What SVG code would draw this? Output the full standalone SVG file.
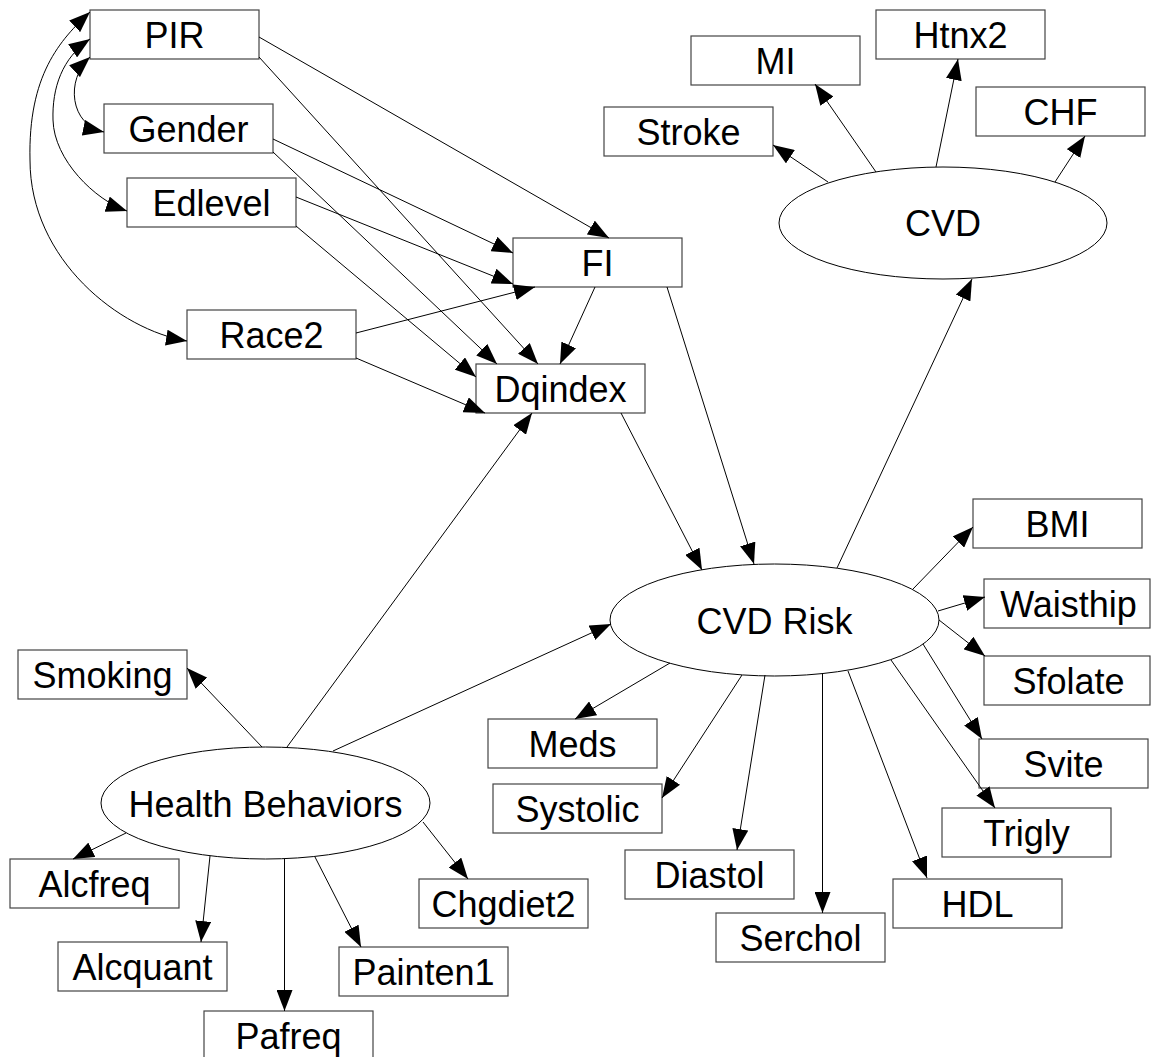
<svg xmlns="http://www.w3.org/2000/svg" width="1151" height="1057" viewBox="0 0 1151 1057">
<style>
.box{fill:#fff;stroke:#444;stroke-width:1.2}
.ell{fill:#fff;stroke:#000;stroke-width:1}
.lbl{font-family:"Liberation Sans",Arial,sans-serif;font-size:36px;fill:#000;text-anchor:middle}
.e{fill:none;stroke:#000;stroke-width:1;marker-end:url(#arr)}
.b{fill:none;stroke:#000;stroke-width:1;marker-end:url(#arr);marker-start:url(#arr)}
</style>
<defs>
<marker id="arr" viewBox="0 0 21 16" markerWidth="21" markerHeight="16" refX="21" refY="8" orient="auto-start-reverse" markerUnits="userSpaceOnUse"><path d="M0,0 L21,8 L0,16 z" fill="#000"/></marker>
</defs>
<rect width="1151" height="1057" fill="#fff"/>
<g id="nodes">
<g id="PIR"><rect class="box" x="90" y="10" width="169" height="49"/><text class="lbl" x="174.5" y="48">PIR</text></g>
<g id="Gender"><rect class="box" x="104" y="104" width="169" height="49"/><text class="lbl" x="188.5" y="142">Gender</text></g>
<g id="Edlevel"><rect class="box" x="127" y="178" width="169" height="49"/><text class="lbl" x="211.5" y="216">Edlevel</text></g>
<g id="Race2"><rect class="box" x="187" y="310" width="169" height="49"/><text class="lbl" x="271.5" y="348">Race2</text></g>
<g id="FI"><rect class="box" x="513" y="238" width="169" height="49"/><text class="lbl" x="597.5" y="276">FI</text></g>
<g id="Dqindex"><rect class="box" x="476" y="364" width="169" height="49"/><text class="lbl" x="560.5" y="402">Dqindex</text></g>
<g id="Stroke"><rect class="box" x="604" y="107" width="169" height="49"/><text class="lbl" x="688.5" y="145">Stroke</text></g>
<g id="MI"><rect class="box" x="691" y="36" width="169" height="49"/><text class="lbl" x="775.5" y="74">MI</text></g>
<g id="Htnx2"><rect class="box" x="876" y="10" width="169" height="49"/><text class="lbl" x="960.5" y="48">Htnx2</text></g>
<g id="CHF"><rect class="box" x="976" y="87" width="169" height="49"/><text class="lbl" x="1060.5" y="125">CHF</text></g>
<g id="CVD"><ellipse class="ell" cx="943" cy="223" rx="164" ry="56"/><text class="lbl" x="943" y="236">CVD</text></g>
<g id="CVDRisk"><ellipse class="ell" cx="774.5" cy="620" rx="164.5" ry="56"/><text class="lbl" x="774.5" y="634">CVD Risk</text></g>
<g id="HealthBehaviors"><ellipse class="ell" cx="265.5" cy="803" rx="164.5" ry="56"/><text class="lbl" x="265.5" y="817">Health Behaviors</text></g>
<g id="BMI"><rect class="box" x="973" y="499" width="169" height="49"/><text class="lbl" x="1057.5" y="537">BMI</text></g>
<g id="Waisthip"><rect class="box" x="984" y="579" width="166" height="49"/><text class="lbl" x="1068.5" y="617">Waisthip</text></g>
<g id="Sfolate"><rect class="box" x="984" y="656" width="166" height="49"/><text class="lbl" x="1068.5" y="694">Sfolate</text></g>
<g id="Svite"><rect class="box" x="979" y="739" width="169" height="49"/><text class="lbl" x="1063.5" y="777">Svite</text></g>
<g id="Trigly"><rect class="box" x="942" y="808" width="169" height="49"/><text class="lbl" x="1026.5" y="846">Trigly</text></g>
<g id="HDL"><rect class="box" x="893" y="879" width="169" height="49"/><text class="lbl" x="977.5" y="917">HDL</text></g>
<g id="Serchol"><rect class="box" x="716" y="913" width="169" height="49"/><text class="lbl" x="800.5" y="951">Serchol</text></g>
<g id="Diastol"><rect class="box" x="625" y="850" width="169" height="49"/><text class="lbl" x="709.5" y="888">Diastol</text></g>
<g id="Systolic"><rect class="box" x="493" y="784" width="169" height="49"/><text class="lbl" x="577.5" y="822">Systolic</text></g>
<g id="Meds"><rect class="box" x="488" y="719" width="169" height="49"/><text class="lbl" x="572.5" y="757">Meds</text></g>
<g id="Smoking"><rect class="box" x="18" y="650" width="169" height="49"/><text class="lbl" x="102.5" y="688">Smoking</text></g>
<g id="Alcfreq"><rect class="box" x="10" y="859" width="169" height="49"/><text class="lbl" x="94.5" y="897">Alcfreq</text></g>
<g id="Alcquant"><rect class="box" x="58" y="942" width="169" height="49"/><text class="lbl" x="142.5" y="980">Alcquant</text></g>
<g id="Pafreq"><rect class="box" x="204" y="1011" width="169" height="49"/><text class="lbl" x="288.5" y="1049">Pafreq</text></g>
<g id="Painten1"><rect class="box" x="339" y="947" width="169" height="49"/><text class="lbl" x="423.5" y="985">Painten1</text></g>
<g id="Chgdiet2"><rect class="box" x="419" y="879" width="169" height="49"/><text class="lbl" x="503.5" y="917">Chgdiet2</text></g>
</g>
<g id="connectors">
<path class="b" d="M90,57 C65,80 70,125 104,132"/>
<path class="b" d="M90,39 C62,58 52,88 53,120 C54,160 95,200 127,211"/>
<path class="b" d="M90,12 C60,40 28,75 30,160 C30,260 120,330 187,341"/>
<path class="e" d="M259,37 L609,238"/>
<path class="e" d="M273,139 L513,253"/>
<path class="e" d="M296,197 L513,284"/>
<path class="e" d="M356,333 L535,287"/>
<path class="e" d="M259,57 L538,364"/>
<path class="e" d="M273,152 L497,364"/>
<path class="e" d="M296,226 L476,377"/>
<path class="e" d="M356,358 L485,413"/>
<path class="e" d="M595,287 L560,364"/>
<path class="e" d="M287,747 L532,413"/>
<path class="e" d="M667,287 L754,564"/>
<path class="e" d="M621,413 L702,570"/>
<path class="e" d="M333,751 L611,624"/>
<path class="e" d="M837,568 L972,279"/>
<path class="e" d="M828,182 L773,145"/>
<path class="e" d="M876,172 L815,84"/>
<path class="e" d="M936,167 L958,59"/>
<path class="e" d="M1055,182 L1085,136"/>
<path class="e" d="M262,747 L187,668"/>
<path class="e" d="M126,833 L73,859"/>
<path class="e" d="M210,856 L201,942"/>
<path class="e" d="M284.5,859 L284.5,1011"/>
<path class="e" d="M315,857 L361,947"/>
<path class="e" d="M423,822 L468,879"/>
<path class="e" d="M670,663 L575,719"/>
<path class="e" d="M742,675 L662,798"/>
<path class="e" d="M765,675 L737,850"/>
<path class="e" d="M822.5,673 L822.5,913"/>
<path class="e" d="M848,671 L927,878"/>
<path class="e" d="M891,660 L995,808"/>
<path class="e" d="M923,644 L982,739"/>
<path class="e" d="M939,620 L985,656"/>
<path class="e" d="M938,611 L985,597"/>
<path class="e" d="M913,589 L973,527"/>
</g>
</svg>
